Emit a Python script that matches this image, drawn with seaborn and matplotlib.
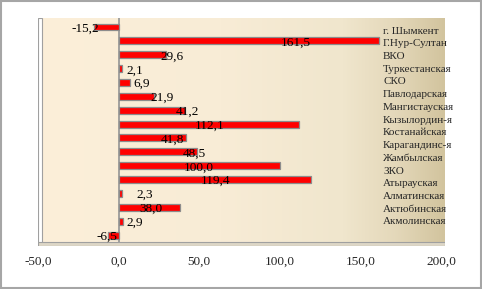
import numpy as np
import pandas as pd
import matplotlib
matplotlib.use('Agg')
import matplotlib.pyplot as plt
import seaborn as sns
from matplotlib.patches import Rectangle

# =============================================================================
# 1. DATOS
# =============================================================================
regiones = ['г. Шымкент', 'Г.Нур-Султан', 'ВКО', 'Туркестанская', 'СКО',
            'Павлодарская', 'Мангистауская', 'Кызылордин-я', 'Костанайская',
            'Карагандинс-я', 'Жамбылская', 'ЗКО', 'Атырауская', 'Алматинская',
            'Актюбинская', 'Акмолинская']
valores = [-15.2, 161.5, 29.6, 2.1, 6.9, 21.9, 41.2, 112.1, 41.8,
           48.5, 100.0, 119.4, 2.3, 38.0, 2.9, -6.5]
ticks_x = [-50, 0, 50, 100, 150, 200]

# posición (eje x) donde Excel dejó cada etiqueta de valor
pos_etiquetas = [-20.5, 110, 33, 10, 14, 27, 43, 56.5, 33.5, 47, 50, 60, 16, 20, 10, -7.5]

df = pd.DataFrame({'region': regiones, 'valor': valores})

def coma(v):
    return f'{v:.1f}'.replace('.', ',')

# =============================================================================
# 2. FIGURA
# =============================================================================
sns.set_style('white')
plt.rcParams['font.family'] = ['Liberation Serif', 'DejaVu Serif']

W, H = 482, 289
fig = plt.figure(figsize=(W / 100, H / 100), dpi=100)
izq, der, arriba, abajo = 38, 445, 18, 246
ax = fig.add_axes([izq / W, 1 - abajo / H, (der - izq) / W, (abajo - arriba) / H])

# fondo degradado crema -> beige
grad = np.linspace(0, 1, 256)
pts = [0.0, 0.45, 0.75, 0.88, 1.0]
cols = np.array([[252, 239, 217], [248, 236, 214], [240, 230, 205],
                 [228, 216, 186], [210, 196, 158]]) / 255
img = np.stack([np.interp(grad, pts, cols[:, k]) for k in range(3)], axis=-1)[None, :, :]
ax.imshow(img, extent=[0, 1, 0, 1], transform=ax.transAxes, aspect='auto', zorder=0)

sns.barplot(data=df, x='valor', y='region', orient='h', color='#FF0000',
            edgecolor='#8c8c8c', linewidth=0.9, width=0.5, saturation=1, ax=ax, zorder=3)

ax.set_xlim(-50, 202.5)
ax.set_ylim(15.79, -0.65)
ax.set_aspect('auto')

# línea del cero
ax.axvline(0, color='#9a9a9a', lw=1.3, zorder=2)

# pared izquierda y piso (efecto 3D)
ax.add_patch(Rectangle((0, 0), 4 / (der - izq), 1, transform=ax.transAxes,
                       facecolor='#ffffff', edgecolor='#a0a0a0', lw=0.8, zorder=4))
ax.add_patch(Rectangle((0, 0), 1, 4 / (abajo - arriba), transform=ax.transAxes,
                       facecolor='#ddd6c6', edgecolor='#a0a0a0', lw=0.8, zorder=4))

# etiquetas de valor
for i, (v, px) in enumerate(zip(valores, pos_etiquetas)):
    ax.text(px, i + 0.12, coma(v), ha='center', va='center', fontsize=9.5,
            color='black', zorder=5)

# nombres de región a la derecha, dentro del área
for i, r in enumerate(regiones):
    ypx = 31 + i * 12.73
    ax.text((383 - izq) / (der - izq), 1 - (ypx - arriba) / (abajo - arriba), r,
            transform=ax.transAxes, ha='left', va='center', fontsize=8, zorder=5)

ax.set_yticks([])
ax.set_ylabel('')
ax.set_xlabel('')
ax.set_xticks(ticks_x)
ax.set_xticklabels([coma(t) for t in ticks_x], fontsize=9.5)
ax.tick_params(axis='x', direction='out', length=4, width=0.8, color='#8c8c8c', pad=3)
for s in ax.spines.values():
    s.set_visible(False)

# borde del gráfico
fig.patches.append(Rectangle((0.002, 0.003), 0.995, 0.993, transform=fig.transFigure,
                             fill=False, edgecolor='#a6a6a6', lw=1.5))

fig.savefig('out.png', dpi=100)
